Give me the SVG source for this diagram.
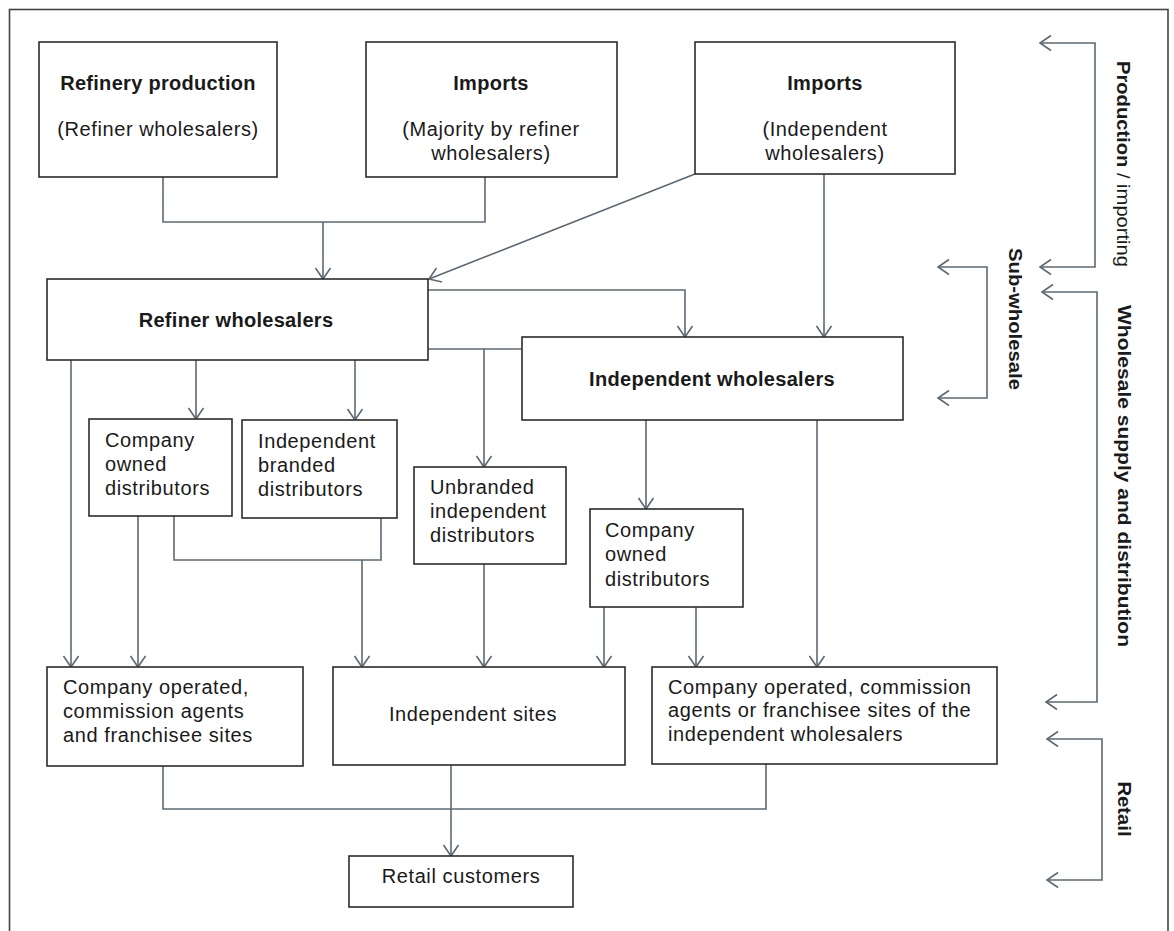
<svg xmlns="http://www.w3.org/2000/svg" width="1174" height="931" viewBox="0 0 1174 931">
<style>
.box{fill:#fff;stroke:#2b2b2b;stroke-width:1.6}
.c{fill:none;stroke:#5e6873;stroke-width:1.6}
.t{font-family:"Liberation Sans",Arial,sans-serif;font-size:20px;fill:#1a1a1a;letter-spacing:0.6px}
.b{font-family:"Liberation Sans",Arial,sans-serif;font-size:20px;font-weight:bold;fill:#1a1a1a;letter-spacing:0.3px}
.m{text-anchor:middle}
.r{font-family:"Liberation Sans",Arial,sans-serif;font-size:18px;font-weight:bold;fill:#1a1a1a;text-anchor:middle}
</style>
<defs>
<marker id="a" viewBox="-13 -9 15 18" markerWidth="15" markerHeight="18" refX="0" refY="0" orient="auto-start-reverse" markerUnits="userSpaceOnUse">
<path d="M-11,-7.5 L0,0 L-11,7.5" fill="none" stroke="#5e6873" stroke-width="1.6"/>
</marker>
</defs>
<rect x="9.5" y="9.5" width="1158.5" height="940" fill="#fff" stroke="#444" stroke-width="1.6"/>

<g id="connectors">
<path class="c" d="M163,177 V222 H485 V177"/>
<path class="c" d="M323,222 V279" marker-end="url(#a)"/>
<path class="c" d="M695,174 L429,279" marker-end="url(#a)"/>
<path class="c" d="M824,174 V337" marker-end="url(#a)"/>
<path class="c" d="M428,290 H685 V337" marker-end="url(#a)"/>
<path class="c" d="M428,349 H522"/>
<path class="c" d="M484,349 V467" marker-end="url(#a)"/>
<path class="c" d="M71,360 V667" marker-end="url(#a)"/>
<path class="c" d="M196,360 V419" marker-end="url(#a)"/>
<path class="c" d="M355,360 V420" marker-end="url(#a)"/>
<path class="c" d="M138,516 V667" marker-end="url(#a)"/>
<path class="c" d="M174,516 V560 H381 V518"/>
<path class="c" d="M362,560 V667" marker-end="url(#a)"/>
<path class="c" d="M484,564 V667" marker-end="url(#a)"/>
<path class="c" d="M646,420 V509" marker-end="url(#a)"/>
<path class="c" d="M604,607 V667" marker-end="url(#a)"/>
<path class="c" d="M696,607 V667" marker-end="url(#a)"/>
<path class="c" d="M817,420 V667" marker-end="url(#a)"/>
<path class="c" d="M163,766 V809 H766 V764"/>
<path class="c" d="M451,765 V856" marker-end="url(#a)"/>
</g>

<g id="brackets">
<path class="c" d="M1040,43 H1095 V267 H1040" marker-start="url(#a)" marker-end="url(#a)"/>
<path class="c" d="M938,267 H987 V398 H938" marker-start="url(#a)" marker-end="url(#a)"/>
<path class="c" d="M1042,292 H1097 V702 H1046" marker-start="url(#a)" marker-end="url(#a)"/>
<path class="c" d="M1047,739 H1102 V880 H1047" marker-start="url(#a)" marker-end="url(#a)"/>
<text class="r" transform="translate(1117,164) rotate(90)" textLength="206" lengthAdjust="spacingAndGlyphs">Production<tspan font-weight="normal"> / importing</tspan></text>
<text class="r" transform="translate(1009,319) rotate(90)" textLength="142" lengthAdjust="spacingAndGlyphs">Sub-wholesale</text>
<text class="r" transform="translate(1118,476) rotate(90)" textLength="342" lengthAdjust="spacingAndGlyphs">Wholesale supply and distribution</text>
<text class="r" transform="translate(1118,809) rotate(90)" textLength="55" lengthAdjust="spacingAndGlyphs">Retail</text>
</g>

<g id="refinery-production">
<rect class="box" x="39" y="42" width="238" height="135"/>
<text class="b m" x="158" y="90">Refinery production</text>
<text class="t m" x="158" y="136">(Refiner wholesalers)</text>
</g>
<g id="imports-refiner">
<rect class="box" x="366" y="42" width="251" height="135"/>
<text class="b m" x="491" y="90">Imports</text>
<text class="t m" x="491" y="136">(Majority by refiner</text>
<text class="t m" x="491" y="160">wholesalers)</text>
</g>
<g id="imports-independent">
<rect class="box" x="695" y="42" width="260" height="132"/>
<text class="b m" x="825" y="90">Imports</text>
<text class="t m" x="825" y="136">(Independent</text>
<text class="t m" x="825" y="160">wholesalers)</text>
</g>
<g id="refiner-wholesalers">
<rect class="box" x="47" y="279" width="381" height="81"/>
<text class="b m" x="236" y="327">Refiner wholesalers</text>
</g>
<g id="independent-wholesalers">
<rect class="box" x="522" y="337" width="381" height="83"/>
<text class="b m" x="712" y="386">Independent wholesalers</text>
</g>
<g id="company-owned-1">
<rect class="box" x="89" y="419" width="143" height="97"/>
<text class="t" x="105" y="447">Company</text>
<text class="t" x="105" y="471">owned</text>
<text class="t" x="105" y="495">distributors</text>
</g>
<g id="independent-branded">
<rect class="box" x="242" y="420" width="155" height="98"/>
<text class="t" x="258" y="448">Independent</text>
<text class="t" x="258" y="472">branded</text>
<text class="t" x="258" y="496">distributors</text>
</g>
<g id="unbranded-independent">
<rect class="box" x="414" y="467" width="152" height="97"/>
<text class="t" x="430" y="494">Unbranded</text>
<text class="t" x="430" y="518">independent</text>
<text class="t" x="430" y="542">distributors</text>
</g>
<g id="company-owned-2">
<rect class="box" x="590" y="509" width="153" height="98"/>
<text class="t" x="605" y="537">Company</text>
<text class="t" x="605" y="561">owned</text>
<text class="t" x="605" y="586">distributors</text>
</g>
<g id="company-operated-refiner">
<rect class="box" x="47" y="667" width="256" height="99"/>
<text class="t" x="63" y="694">Company operated,</text>
<text class="t" x="63" y="718">commission agents</text>
<text class="t" x="63" y="742">and franchisee sites</text>
</g>
<g id="independent-sites">
<rect class="box" x="333" y="667" width="292" height="98"/>
<text class="t m" x="473" y="721">Independent sites</text>
</g>
<g id="company-operated-independent">
<rect class="box" x="652" y="667" width="345" height="97"/>
<text class="t" x="668" y="694">Company operated, commission</text>
<text class="t" x="668" y="717">agents or franchisee sites of the</text>
<text class="t" x="668" y="741">independent wholesalers</text>
</g>
<g id="retail-customers">
<rect class="box" x="349" y="856" width="224" height="51"/>
<text class="t m" x="461" y="883">Retail customers</text>
</g>
</svg>
